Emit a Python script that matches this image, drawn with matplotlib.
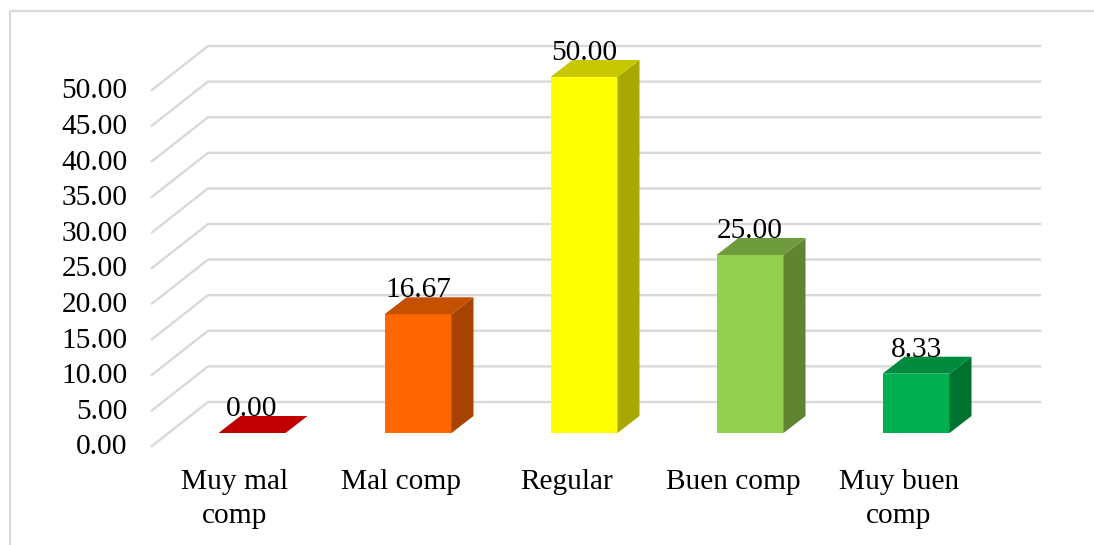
import matplotlib
matplotlib.use("Agg")
import matplotlib.pyplot as plt

categories = ["Muy mal\ncomp", "Mal comp", "Regular", "Buen comp", "Muy buen\ncomp"]
values = [0.00, 16.67, 50.00, 25.00, 8.33]
value_labels = ["0.00", "16.67", "50.00", "25.00", "8.33"]
front_colors = ["#C00000", "#FF6600", "#FFFF00", "#92D050", "#00B050"]
side_colors = ["#8E0000", "#A64300", "#A8A800", "#608430", "#00722F"]
top_colors = ["#C00000", "#C55000", "#C8C800", "#6E9C3C", "#008A3D"]
y_ticks = [0, 5, 10, 15, 20, 25, 30, 35, 40, 45, 50]

W, H = 1094, 545
PX_X = 166.0   # pixels per category
PX_Y = 7.12    # pixels per 1.00 on the value axis
X0 = 252.0     # pixel of first category centre
Y0 = 446.0     # pixel of value 0 on the front edge


def dx(px):
    return px / PX_X


def dy(px):
    return px / PX_Y


plt.rcParams["font.family"] = ["Liberation Serif", "DejaVu Serif"]

fig = plt.figure(figsize=(W / 100, H / 100), dpi=100)
ax = fig.add_axes([0, 0, 1, 1])
ax.set_xlim(-X0 / PX_X, (W - X0) / PX_X)
ax.set_ylim((Y0 - H) / PX_Y, Y0 / PX_Y)
ax.axis("off")

# outer frame, right edge falls on the border of the picture
frame_left = dx(9.5 - X0)
frame_right = dx(1094 - X0)
frame_top = dy(Y0 - 11)
ax.plot([frame_left, frame_left, frame_right],
        [ax.get_ylim()[0], frame_top, frame_top],
        color="#D9D9D9", lw=1.5, zorder=1)

# walls: slanted floor/side lines and the back gridlines
left = dx(152 - X0)
back_x = dx(208 - X0)
right = dx(1040 - X0)
wall_dy = dy(44)
for t in y_ticks:
    ax.plot([left, back_x, right], [t, t + wall_dy, t + wall_dy],
            color="#D9D9D9", lw=1.7, zorder=1, solid_joinstyle="miter")
    ax.text(dx(127.5 - X0), t - dy(1.5), f"{t:.2f}", ha="right", va="center", fontsize=21.2, color="black")

# bars
bar_w = dx(67)
base = dy(13)
depth_x = dx(22)
depth_y = dy(17)
positions = list(range(len(values)))
ax.bar(positions, values, width=bar_w, bottom=base, color=front_colors, linewidth=0, zorder=3)
for i, v in enumerate(values):
    x1 = i - bar_w / 2
    x2 = i + bar_w / 2
    top = base + v
    ax.fill([x2, x2 + depth_x, x2 + depth_x, x2],
            [base, base + depth_y, top + depth_y, top],
            color=side_colors[i], lw=0, zorder=3)
    ax.fill([x1, x2, x2 + depth_x, x1 + depth_x],
            [top, top, top + depth_y, top + depth_y],
            color=top_colors[i], lw=0, zorder=3)
    ax.text(i, top + dy(17), value_labels[i], ha="center", va="baseline",
            fontsize=21.2, color="black", zorder=4)

for i, c in enumerate(categories):
    ax.text(i - dx(17), dy(Y0 - 469), c, ha="center", va="top", fontsize=21.2,
            color="black", linespacing=1.38)

fig.savefig("out.png", dpi=100)
